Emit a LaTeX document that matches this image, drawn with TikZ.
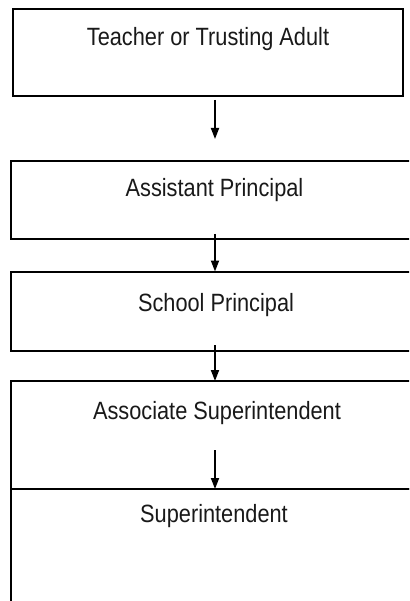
\documentclass[tikz,border=0pt]{standalone}
\usepackage{fontspec}
\setmainfont{Liberation Sans}
\newfontfamily\chartfont{Liberation Sans}[FakeStretch=0.87]
\usetikzlibrary{arrows.meta}

\begin{document}
\begin{tikzpicture}[line join=miter,>={Triangle[length=11pt,width=8pt]},x=1pt,y=-1pt,
                box/.style={draw=black,line width=2pt,inner sep=0pt,outer sep=0pt},
                lbl/.style={anchor=base,inner sep=0pt,font=\chartfont\fontsize{25}{28}\selectfont,text=black!90},
                link/.style={->,line width=1.8pt}]
                \useasboundingbox (0,0) rectangle (409,601);
                \clip (0,0) rectangle (409,601);
                % the chain of boxes, top to bottom
                \node [box,minimum width=390.5pt,minimum height=87pt] (teacher) at (207.75,53) {};
                \node [box,minimum width=408pt,minimum height=78pt] (assistant) at (215,200) {};
                \node [box,minimum width=408pt,minimum height=79.5pt] (school) at (215,311.25) {};
                \node [box,minimum width=408pt,minimum height=108pt] (associate) at (215,435) {};
                \node [box,minimum width=408pt,minimum height=160pt] (superint) at (215,569) {};
                % titles near the top of each box
                \node [lbl] (teacherlbl) at (208,46) {Teacher or Trusting Adult};
                \node [lbl] (assistantlbl) at (214.5,196.5) {Assistant Principal};
                \node [lbl] (schoollbl) at (216,311.5) {School Principal};
                \node [lbl] (associatelbl) at (217,419) {Associate Superintendent};
                \node [lbl] (superintlbl) at (214,522) {Superintendent};
                % arrows
                \draw [link,shorten <=3.5pt,shorten >=22pt] (teacher.south -| assistant.north) -- (assistant.north);
                \draw [link,shorten <=-5pt] (assistant.south) -- (school.north);
                \draw [link,shorten <=-6pt] (school.south) -- (associate.north);
                \draw [link,shorten <=15pt] (associate.center) -- (superint.north);
\end{tikzpicture}
\end{document}
